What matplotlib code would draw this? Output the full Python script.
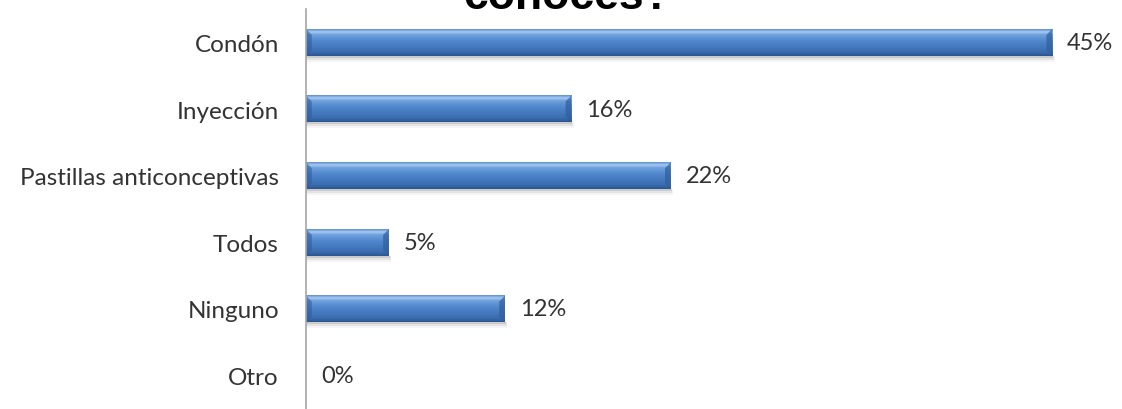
import matplotlib
matplotlib.use("Agg")
import matplotlib.pyplot as plt
import numpy as np
from matplotlib.colors import LinearSegmentedColormap

categories = ["Condón", "Inyección", "Pastillas anticonceptivas", "Todos", "Ninguno", "Otro"]
values = [45, 16, 22, 5, 12, 0]
value_labels = ["45%", "16%", "22%", "5%", "12%", "0%"]
title_text = "conoces?"

W, H = 1122, 410
fig = plt.figure(figsize=(W / 100, H / 100), dpi=100)
ax = fig.add_axes([306 / W, 0.0, (1102 - 306) / W, 400 / H])

y = np.arange(len(categories))
bar_h = 0.40
bars = ax.barh(y, values, height=bar_h, color="none", edgecolor="none", zorder=3)

ax.set_xlim(0, 48)
ax.set_ylim(len(categories) - 0.5, -0.5)

cmap = LinearSegmentedColormap.from_list(
    "bevel",
    [(0.0, "#2a5690"), (0.15, "#3a6db0"), (0.55, "#4f86cc"), (0.80, "#6fa2de"),
     (0.90, "#a8cbf2"), (1.0, "#5d8fd0")])
grad = np.linspace(0, 1, 64).reshape(-1, 1)

for b in bars:
    x0, y0 = b.get_x(), b.get_y()
    w, h = b.get_width(), b.get_height()
    if w <= 0:
        continue
    for k, a in enumerate([0.10, 0.07, 0.04]):
        ax.add_patch(plt.Rectangle((x0, y0 + h), w + 0.05 * (k + 1), 0.03 * (k + 1),
                                   color="black", alpha=a, lw=0, zorder=2))
    ax.imshow(grad, cmap=cmap, aspect="auto", extent=(x0, x0 + w, y0 + h, y0),
              origin="lower", zorder=3, interpolation="bilinear")
    ax.add_patch(plt.Polygon([(x0 + w, y0), (x0 + w - 0.35, y0 + h * 0.22),
                              (x0 + w - 0.35, y0 + h * 0.8), (x0 + w, y0 + h)],
                             closed=True, color="#2f5f9c", alpha=0.7, lw=0, zorder=4))
    ax.add_patch(plt.Polygon([(x0, y0), (x0 + 0.35, y0 + h * 0.22),
                              (x0 + 0.35, y0 + h * 0.8), (x0, y0 + h)],
                             closed=True, color="#2f5f9c", alpha=0.6, lw=0, zorder=4))

for yi, v, lab in zip(y, values, value_labels):
    ax.text(v + 0.9, yi, lab, va="center", ha="left", fontsize=17,
            family=["Lato", "DejaVu Sans"], color="#333333", zorder=5)

ax.set_yticks(y)
ax.set_yticklabels(categories, fontsize=17.5, family=["Lato", "DejaVu Sans"], color="#333333")
ax.tick_params(axis="y", length=0, pad=19.5)
ax.set_xticks([])
for s in ["top", "right", "bottom"]:
    ax.spines[s].set_visible(False)
ax.spines["left"].set_color("#a6a6a6")
ax.spines["left"].set_linewidth(1.2)
ax.spines["left"].set_zorder(6)

fig.text(567 / W, 1 - 9 / H, title_text, ha="center", va="baseline",
         fontsize=32, fontweight="bold", family=["Liberation Sans", "DejaVu Sans"], color="black")

fig.savefig("out.png", dpi=100)
